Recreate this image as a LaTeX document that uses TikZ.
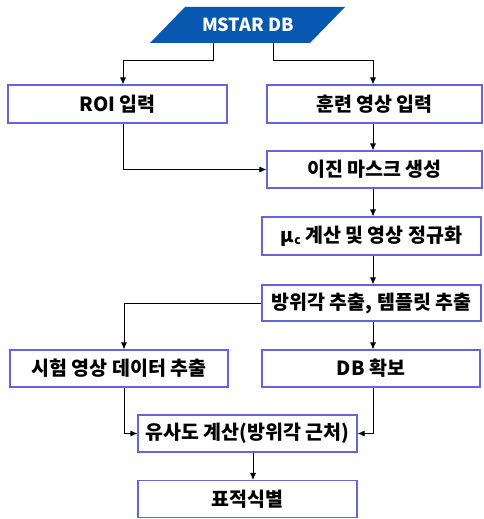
\documentclass[tikz,border=0pt]{standalone}
\usepackage{fontspec}
\setmainfont{Noto Sans CJK KR}
\usetikzlibrary{arrows.meta}
\definecolor{bd}{RGB}{100,100,225}
\definecolor{dbfill}{RGB}{8,88,178}
\begin{document}
\begin{tikzpicture}[x=1pt,y=-1pt,
  box/.style={draw=bd,line width=1.1pt,fill=white,inner sep=0pt,font=\fontsize{19.5}{19.5}\selectfont\bfseries},
  arr/.style={draw=black,line width=0.8pt,-{Latex[length=7pt,width=6pt]}},
  ln/.style={draw=black,line width=0.8pt}]
\useasboundingbox (0,0) rectangle (483,519);
% MSTAR DB
\fill[dbfill] (150,43) -- (185,7) -- (345,7) -- (310,43) -- cycle;
\node[text=white,font=\fontsize{18}{18}\selectfont\bfseries] (db) at (248,25) {MSTAR DB};
\coordinate (dbl) at (213,43);
\coordinate (dbr) at (273,43);
% boxes
\node[box,minimum width=219pt,minimum height=38pt] (roi) at (117.5,104) {ROI 입력};
\node[box,minimum width=215pt,minimum height=38pt] (train) at (374.5,104) {훈련 영상 입력};
\node[box,minimum width=215pt,minimum height=37pt] (bin) at (374.5,169.5) {이진 마스크 생성};
\node[box,minimum width=219pt,minimum height=38pt] (mu) at (371.5,236) {μ{\fontsize{12}{12}\selectfont\raisebox{-2.5pt}{c}} 계산 및 영상 정규화};
\node[box,minimum width=219pt,minimum height=36pt] (az) at (371.5,303) {방위각 추출, 템플릿 추출};
\node[box,minimum width=218pt,minimum height=37pt] (exam) at (119,368.5) {시험 영상 데이터 추출};
\node[box,minimum width=218pt,minimum height=37pt] (dbk) at (371,368.5) {DB 확보};
\node[box,minimum width=219pt,minimum height=37pt] (sim) at (247.5,433.5) {유사도 계산(방위각 근처)};
\node[box,minimum width=219pt,minimum height=37pt] (tgt) at (247.5,499) {표적식별};
% connectors
\draw[arr] (dbl) -- ++(0,17) -| ([xshift=5.5pt]roi.north);
\draw[arr] (dbr) -- ++(0,17) -| ([xshift=-1.5pt]train.north);
\draw[arr] ([xshift=-1.5pt]train.south) -- ([xshift=-1.5pt]bin.north);
\draw[arr] ([xshift=5.5pt]roi.south) |- (bin.west);
\draw[arr] ([xshift=-1.5pt]bin.south) -- ([xshift=1.5pt]mu.north);
\draw[arr] ([xshift=1.5pt]mu.south) -- ([xshift=1.5pt]az.north);
\draw[arr] (az.west) -| ([xshift=5pt]exam.north);
\draw[arr] ([xshift=1.5pt]az.south) -- ([xshift=2pt]dbk.north);
\draw[arr] ([xshift=5pt]exam.south) |- (sim.west);
\draw[arr] ([xshift=2pt]dbk.south) |- (sim.east);
\draw[arr] ([xshift=5.5pt]sim.south) -- ([xshift=5.5pt]tgt.north);
\end{tikzpicture}
\end{document}
